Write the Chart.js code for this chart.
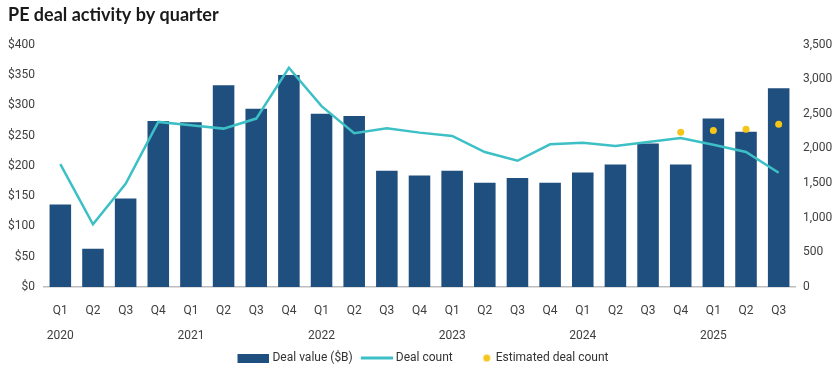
<!DOCTYPE html>
<html>
<head>
<meta charset="utf-8">
<script src="https://cdn.jsdelivr.net/npm/chart.js@4"></script>
<style>
  html, body { margin: 0; padding: 0; background: #fff; }
  #wrap { width: 839px; height: 374px; }
</style>
</head>
<body>
<div id="wrap"><canvas id="peChart" width="839" height="374"></canvas></div>
<script>
const quarters = ['Q1','Q2','Q3','Q4','Q1','Q2','Q3','Q4','Q1','Q2','Q3','Q4','Q1','Q2','Q3','Q4','Q1','Q2','Q3','Q4','Q1','Q2','Q3'];
const yearLabels = ['2020','','','','2021','','','','2022','','','','2023','','','','2024','','','','2025','',''];
const dealValue = [136, 63, 146, 274, 272, 333, 294, 350, 286, 282, 192, 184, 192, 172, 180, 172, 189, 202, 237, 202, 278, 256, 328];
const dealCount = [1775, 906, 1490, 2384, 2336, 2287, 2432, 3166, 2611, 2220, 2292, 2229, 2181, 1949, 1823, 2060, 2084, 2036, 2094, 2152, 2055, 1949, 1649];
const estimatedCount = [null, null, null, null, null, null, null, null, null, null, null, null, null, null, null, null, null, null, null, 2234, 2258, 2278, 2350];
const leftTicks = [0, 50, 100, 150, 200, 250, 300, 350, 400];
const rightTicks = [0, 500, 1000, 1500, 2000, 2500, 3000, 3500];

const navy = '#1f4f7f';
const teal = '#3cc0c6';
const gold = '#f5c518';
const tickFont = { family: "Roboto, sans-serif", size: 12 };

// small legend swatches (drawn as images so each can have its own shape)
function swatch(draw) {
    const c = document.createElement('canvas');
    c.width = 34; c.height = 9;
    draw(c.getContext('2d'));
    return c;
}
const barSwatch = swatch(g => { g.fillStyle = navy; g.fillRect(2, 0, 32, 9); });
const lineSwatch = swatch(g => { g.fillStyle = teal; g.fillRect(2, 3, 32, 3); });
const dotSwatch = swatch(g => { g.fillStyle = gold; g.beginPath(); g.arc(28, 4.5, 3.5, 0, Math.PI * 2); g.fill(); });

const ctx = document.getElementById('peChart').getContext('2d');
const peChart = new Chart(ctx, {
    type: 'bar',
    data: {
        labels: quarters,
        datasets: [{
            type: 'line',
            label: 'Estimated deal count',
            data: estimatedCount,
            yAxisID: 'yRight',
            showLine: false,
            pointRadius: 3.5,
            pointBackgroundColor: gold,
            pointBorderWidth: 0,
            order: 1
        }, {
            type: 'line',
            label: 'Deal count',
            data: dealCount,
            yAxisID: 'yRight',
            borderColor: teal,
            borderWidth: 2.5,
            pointRadius: 0,
            tension: 0,
            order: 2
        }, {
            label: 'Deal value ($B)',
            data: dealValue,
            yAxisID: 'yLeft',
            backgroundColor: navy,
            barPercentage: 0.66,
            categoryPercentage: 1,
            order: 3
        }]
    },
    options: {
        responsive: false,
        animation: false,
        layout: { padding: { left: 8, right: 0, top: 0, bottom: 0 } },
        plugins: {
            title: {
                display: true,
                text: 'PE deal activity by quarter',
                align: 'start',
                color: '#1a1a1a',
                font: { family: "Lato, 'Open Sans', sans-serif", size: 18, weight: 'bold' },
                padding: { top: 4, bottom: 19 }
            },
            legend: {
                position: 'bottom',
                labels: {
                    usePointStyle: true,
                    pointStyleWidth: 28,
                    color: '#333',
                    font: tickFont,
                    padding: 9,
                    generateLabels: () => [
                        { text: 'Deal value ($B)', pointStyle: barSwatch, fontColor: '#333', datasetIndex: 2 },
                        { text: 'Deal count', pointStyle: lineSwatch, fontColor: '#333', datasetIndex: 1 },
                        { text: 'Estimated deal count', pointStyle: dotSwatch, fontColor: '#333', datasetIndex: 0 }
                    ]
                }
            },
            tooltip: { enabled: false }
        },
        scales: {
            x: {
                afterFit: s => { s.height = 31; },
                grid: { display: false, drawTicks: false },
                border: { display: true, color: '#bdbdbd', width: 1.5 },
                ticks: { color: '#404040', font: tickFont, padding: 17, maxRotation: 0, autoSkip: false }
            },
            xYear: {
                type: 'category',
                labels: yearLabels,
                position: 'bottom',
                offset: true,
                afterFit: s => { s.height = 25; },
                grid: { display: false, drawTicks: false },
                border: { display: false },
                ticks: { color: '#404040', font: tickFont, padding: 11, maxRotation: 0, autoSkip: false }
            },
            yLeft: {
                position: 'left',
                min: 0,
                max: 400,
                afterBuildTicks: s => { s.ticks = leftTicks.map(v => ({ value: v })); },
                afterFit: s => { s.width = 36; },
                grid: { display: false, drawTicks: false },
                border: { display: false },
                ticks: { color: '#404040', font: tickFont, padding: 9, callback: v => '$' + v }
            },
            yRight: {
                position: 'right',
                min: 0,
                max: 3500,
                afterBuildTicks: s => { s.ticks = rightTicks.map(v => ({ value: v })); },
                afterFit: s => { s.width = 44; },
                grid: { display: false, drawTicks: false },
                border: { display: false },
                ticks: { color: '#404040', font: tickFont, padding: 8, callback: v => v.toLocaleString('en-US') }
            }
        }
    }
});
</script>
</body>
</html>
